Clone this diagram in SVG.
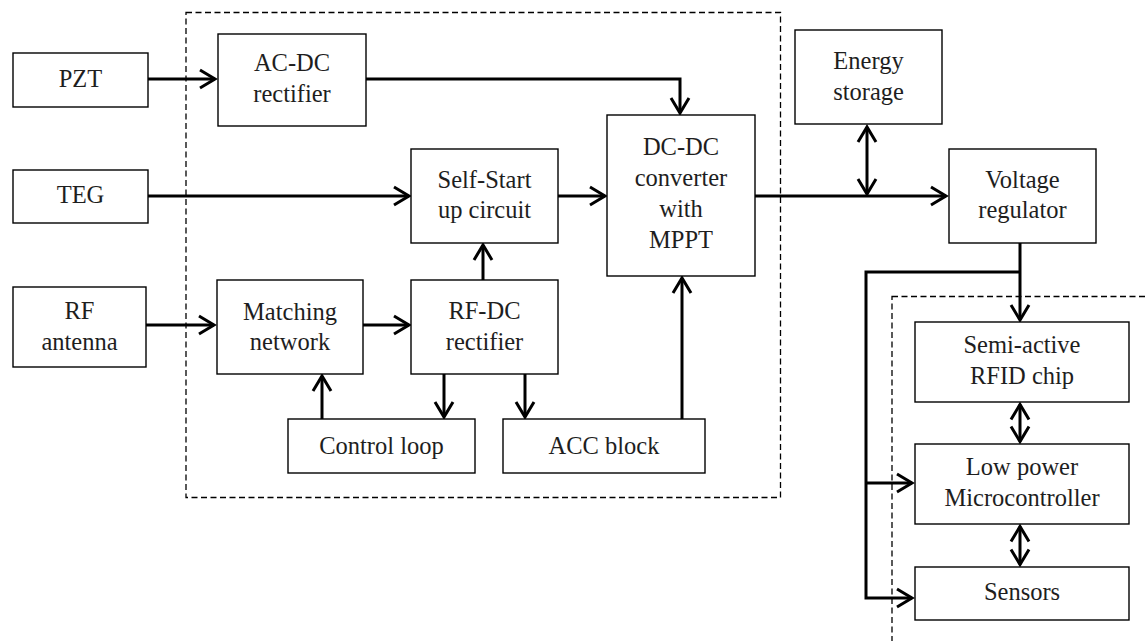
<svg xmlns="http://www.w3.org/2000/svg" width="1145" height="641" viewBox="0 0 1145 641">
<style>
.box{fill:#fff;stroke:#000;stroke-width:1.4}
.dash{fill:none;stroke:#000;stroke-width:1.3;stroke-dasharray:6 3.5}
.c{fill:none;stroke:#000;stroke-width:3}
.t{font-size:24.5px;fill:#1e1e1e;text-anchor:middle}
</style>
<defs>
<marker id="ah" markerUnits="userSpaceOnUse" markerWidth="24" markerHeight="26" viewBox="-19 -13 22 26" refX="0" refY="0" orient="auto-start-reverse">
<path d="M-15,-9 L0,0 L-15,9" fill="none" stroke="#000" stroke-width="3" stroke-linejoin="miter"/>
</marker>
</defs>
<rect width="1145" height="641" fill="#fff"/>
<rect class="dash" x="186" y="12.5" width="594.5" height="485"/>
<rect class="dash" x="892" y="296.5" width="300" height="400"/>
<g id="connectors">
<path class="c" d="M148,79 H215" marker-end="url(#ah)"/>
<path class="c" d="M366,79 H680 V113" marker-end="url(#ah)"/>
<path class="c" d="M148,196 H409" marker-end="url(#ah)"/>
<path class="c" d="M558,196 H605" marker-end="url(#ah)"/>
<path class="c" d="M755,196 H946" marker-end="url(#ah)"/>
<path class="c" d="M867,127 V194" marker-start="url(#ah)" marker-end="url(#ah)"/>
<path class="c" d="M1020,243 V320" marker-end="url(#ah)"/>
<path class="c" d="M1020,272 H866 V598 H912" marker-end="url(#ah)"/>
<path class="c" d="M866,483 H912" marker-end="url(#ah)"/>
<path class="c" d="M1020,404.5 V441.5" marker-start="url(#ah)" marker-end="url(#ah)"/>
<path class="c" d="M1020,526.5 V564.5" marker-start="url(#ah)" marker-end="url(#ah)"/>
<path class="c" d="M146,325 H214" marker-end="url(#ah)"/>
<path class="c" d="M363,325 H409" marker-end="url(#ah)"/>
<path class="c" d="M483,280 V245" marker-end="url(#ah)"/>
<path class="c" d="M322,419 V376" marker-end="url(#ah)"/>
<path class="c" d="M444,374 V417" marker-end="url(#ah)"/>
<path class="c" d="M525,374 V417" marker-end="url(#ah)"/>
<path class="c" d="M682,419 V278" marker-end="url(#ah)"/>
</g>
<g class="t" font-family="'Liberation Serif', serif">
<g id="pzt"><rect class="box" x="13" y="53" width="135" height="54"/><text x="80.5" y="87">PZT</text></g>
<g id="teg"><rect class="box" x="13" y="170" width="135" height="53"/><text x="80.5" y="203">TEG</text></g>
<g id="rfant"><rect class="box" x="13" y="287" width="133" height="80"/><text x="79.5" y="319">RF</text><text x="79.5" y="350">antenna</text></g>
<g id="acdc"><rect class="box" x="218" y="34" width="148" height="92"/><text x="292" y="70.5">AC-DC</text><text x="292" y="101.5">rectifier</text></g>
<g id="selfstart"><rect class="box" x="411" y="149" width="147" height="94"/><text x="484.5" y="188">Self-Start</text><text x="484.5" y="218">up circuit</text></g>
<g id="dcdc"><rect class="box" x="607" y="115" width="148" height="161"/><text x="681" y="155">DC-DC</text><text x="681" y="186">converter</text><text x="681" y="217">with</text><text x="681" y="248">MPPT</text></g>
<g id="matching"><rect class="box" x="217" y="280" width="146" height="94"/><text x="290" y="320">Matching</text><text x="290" y="350">network</text></g>
<g id="rfdc"><rect class="box" x="411" y="280" width="147" height="94"/><text x="484.5" y="319">RF-DC</text><text x="484.5" y="350">rectifier</text></g>
<g id="control"><rect class="box" x="288" y="419" width="187" height="54"/><text x="381.5" y="454">Control loop</text></g>
<g id="acc"><rect class="box" x="503" y="419" width="202" height="54"/><text x="604" y="454">ACC block</text></g>
<g id="storage"><rect class="box" x="795" y="30" width="147" height="94"/><text x="868.5" y="69">Energy</text><text x="868.5" y="100">storage</text></g>
<g id="vreg"><rect class="box" x="949" y="149" width="147" height="94"/><text x="1022.5" y="188">Voltage</text><text x="1022.5" y="218">regulator</text></g>
<g id="rfid"><rect class="box" x="915" y="322" width="214" height="80"/><text x="1022" y="353">Semi-active</text><text x="1022" y="384">RFID chip</text></g>
<g id="mcu"><rect class="box" x="915" y="444" width="214" height="80"/><text x="1022" y="475">Low power</text><text x="1022" y="506">Microcontroller</text></g>
<g id="sensors"><rect class="box" x="915" y="567" width="214" height="53"/><text x="1022" y="600">Sensors</text></g>
</g>
</svg>
